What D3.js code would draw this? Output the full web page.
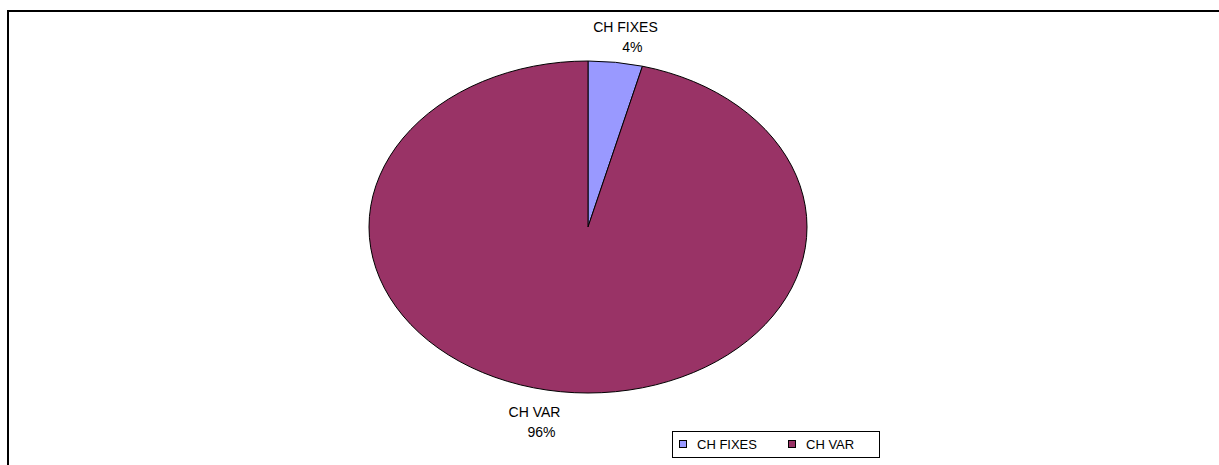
<!DOCTYPE html>
<html>
<head>
<meta charset="utf-8">
<script src="https://cdn.jsdelivr.net/npm/d3@7"></script>
<style>
  body { margin: 0; background: #fff; }
  svg { display: block; font-family: "Liberation Sans", Arial, sans-serif; }
</style>
</head>
<body>
<svg id="chart" width="1219" height="465"></svg>
<script>
// data
var categories = ["CH FIXES", "CH VAR"];
var values = [4, 96];
var colors = ["#9999FF", "#993366"];

var width = 1219, height = 465;
var cx = 588, cy = 227, rx = 219, ry = 166;

var svg = d3.select("#chart");

// chart frame (top + left)
svg.append("path")
    .attr("d", "M8,465 L8,11 L1219,11")
    .attr("fill", "none")
    .attr("stroke", "#000")
    .attr("stroke-width", 2);

var pie = d3.pie().sort(null).value(function(d) { return d; });
var arcs = pie(values);

var arc = d3.arc().innerRadius(0).outerRadius(ry);

var g = svg.append("g")
    .attr("transform", "translate(" + cx + "," + cy + ") scale(" + (rx / ry) + ",1)");

g.selectAll("path")
    .data(arcs)
    .enter()
    .append("path")
    .attr("d", arc)
    .attr("fill", function(d, i) { return colors[i]; })
    .attr("stroke", "#000")
    .attr("stroke-width", 1)
    .attr("vector-effect", "non-scaling-stroke");

// labels, placed relative to the point on the rim at mid-angle
var labelOffsets = [[13, -27], [-23, 28]];
var labels = svg.append("g").attr("class", "labels");
arcs.forEach(function(d, i) {
    var a = (d.startAngle + d.endAngle) / 2;
    var px = cx + rx * Math.sin(a) + labelOffsets[i][0];
    var py = cy - ry * Math.cos(a) + labelOffsets[i][1];
    var pct = Math.round(d.value / d3.sum(values) * 100) + "%";
    labels.append("text")
        .attr("x", px - 3)
        .attr("y", py - 3)
        .attr("text-anchor", "middle")
        .style("font-size", "14px")
        .text(categories[i]);
    labels.append("text")
        .attr("x", px + 4)
        .attr("y", py + 17)
        .attr("text-anchor", "middle")
        .style("font-size", "14px")
        .text(pct);
});

// legend
var legend = svg.append("g").attr("transform", "translate(672,431)");
legend.append("rect")
    .attr("x", 0.5).attr("y", 0.5)
    .attr("width", 207).attr("height", 26)
    .attr("fill", "#fff")
    .attr("stroke", "#000");
var itemX = [7, 116];
categories.forEach(function(c, i) {
    var it = legend.append("g").attr("transform", "translate(" + itemX[i] + ",0)");
    it.append("rect")
        .attr("x", 0.5).attr("y", 9.5)
        .attr("width", 7).attr("height", 7)
        .attr("fill", colors[i])
        .attr("stroke", "#000");
    it.append("text")
        .attr("x", 18).attr("y", 18)
        .style("font-size", "13px")
        .text(c);
});
</script>
</body>
</html>
